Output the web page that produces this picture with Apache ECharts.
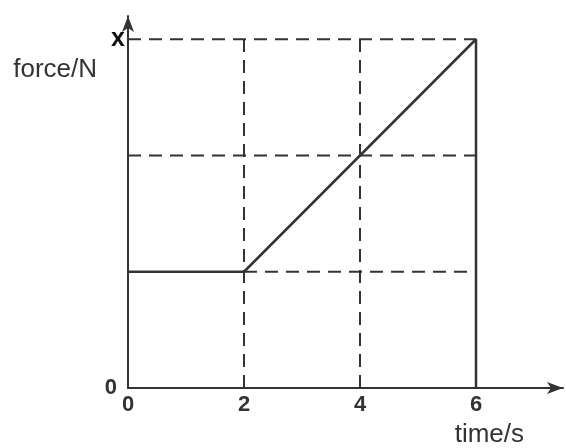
<!DOCTYPE html>
<html>
<head>
<meta charset="utf-8">
<script src="https://cdn.jsdelivr.net/npm/echarts@6/dist/echarts.min.js"></script>
<style>
  html,body{margin:0;padding:0;background:#fff;}
  #main{width:566px;height:448px;}
</style>
</head>
<body>
<div id="main"></div>
<script>
// data
var timeTicks = [0, 2, 4, 6];
var forceTime = [0, 2, 6, 6];
var forceVal = [1, 1, 3, 0];
// dashed guide lines
var guideVert = [2, 4];          // time values, from 0 up to top level
var guideTop = 3;                 // force level "x"
var guideHoriz = [[1, 2, 6], [2, 0, 6], [3, 0, 6]]; // [force, from time, to time]

var ink = '#333';
var font = 'Liberation Sans, Arial, sans-serif';

var series = [];
guideVert.forEach(function (t) {
    series.push({
        type: 'line', symbol: 'none', silent: true,
        data: [[t, 0], [t, guideTop]],
        lineStyle: { color: ink, width: 2, type: [13, 8] }
    });
});
guideHoriz.forEach(function (h) {
    series.push({
        type: 'line', symbol: 'none', silent: true,
        data: [[h[1], h[0]], [h[2], h[0]]],
        lineStyle: { color: ink, width: 2, type: [13, 8] }
    });
});
series.push({
    type: 'line', symbol: 'none',
    data: forceTime.map(function (t, i) { return [t, forceVal[i]]; }),
    lineStyle: { color: ink, width: 2.5 }
});

var chart = echarts.init(document.getElementById('main'));
chart.setOption({
    animation: false,
    backgroundColor: '#fff',
    grid: { left: 128, right: 2, top: 16, bottom: 58 },
    xAxis: {
        type: 'value', min: 0, max: 7.5, interval: 2,
        name: 'time/s',
        nameLocation: 'end',
        nameGap: 0,
        nameTextStyle: {
            fontFamily: font, fontSize: 26, color: ink,
            align: 'right', verticalAlign: 'top', padding: [34, 39, 0, 0]
        },
        axisLine: { onZero: false, symbol: ['none', 'arrow'], symbolSize: [9, 16],
            lineStyle: { color: ink, width: 2 } },
        axisTick: { show: false },
        splitLine: { show: false },
        axisLabel: {
            margin: 6, fontFamily: font, fontSize: 22, fontWeight: 'bold', color: ink,
            formatter: function (v) { return timeTicks.indexOf(v) >= 0 ? String(v) : ''; }
        }
    },
    yAxis: {
        type: 'value', min: 0, max: 3.2, interval: 1,
        name: 'force/N',
        nameLocation: 'end',
        nameGap: 0,
        nameTextStyle: {
            fontFamily: font, fontSize: 26, color: ink,
            align: 'right', verticalAlign: 'top', padding: [41, 31, 0, 0]
        },
        axisLine: { onZero: false, symbol: ['none', 'arrow'], symbolSize: [9, 16],
            lineStyle: { color: ink, width: 2 } },
        axisTick: { show: false },
        splitLine: { show: false },
        axisLabel: {
            margin: 3, fontFamily: font, color: ink,
            formatter: function (v) {
                if (v === 0) return '{z|0}';
                if (v === guideTop) return '{x|x}';
                return '';
            },
            rich: {
                z: { fontFamily: font, fontSize: 22, fontWeight: 'bold', color: ink, padding: [0, 8, 0, 0] },
                x: { fontFamily: font, fontSize: 25, fontWeight: 'bold', color: '#111' }
            }
        }
    },
    series: series
});
</script>
</body>
</html>
